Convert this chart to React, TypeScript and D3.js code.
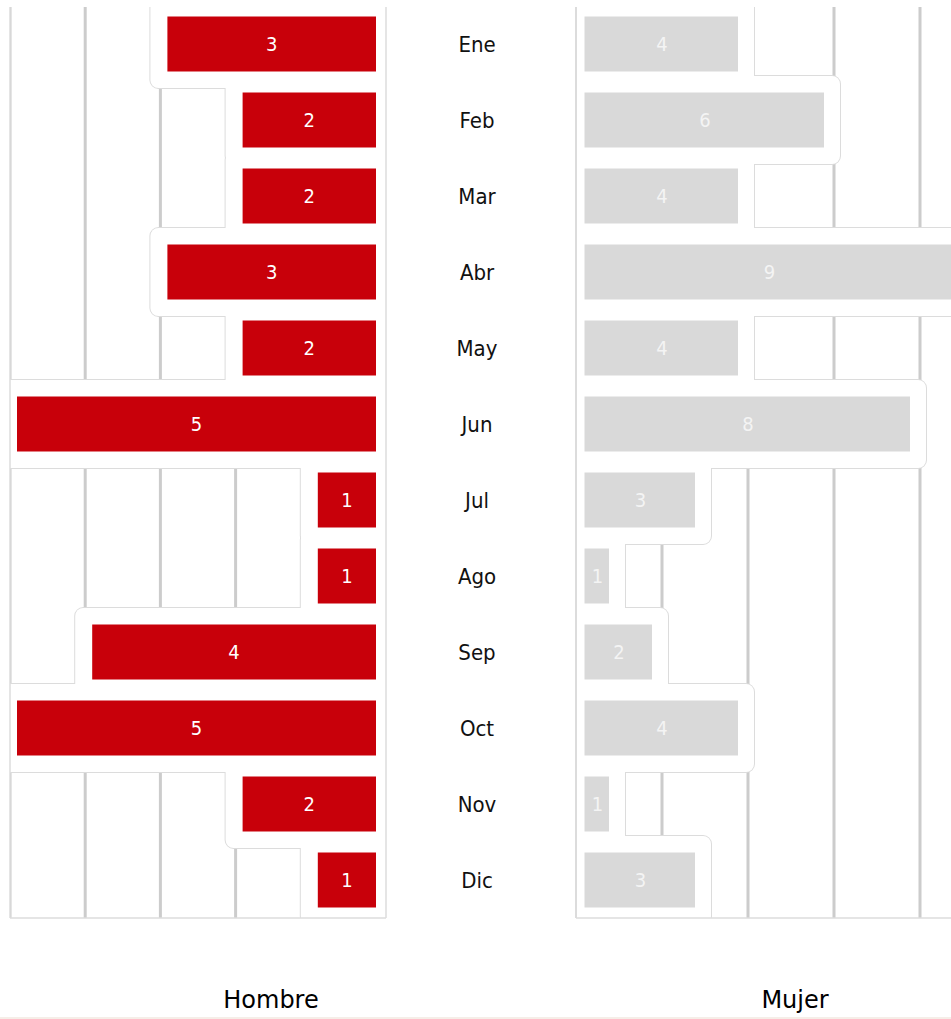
import React from "react";
import * as d3 from "d3";

const months = ["Ene", "Feb", "Mar", "Abr", "May", "Jun", "Jul", "Ago", "Sep", "Oct", "Nov", "Dic"];
const hombre = [3, 2, 2, 3, 2, 5, 1, 1, 4, 5, 2, 1];
const mujer = [4, 6, 4, 9, 4, 8, 3, 1, 2, 4, 1, 3];
const leftTicks = [0, 1, 2, 3, 4, 5];
const rightTicks = [0, 2, 4, 6, 8, 10];
const seriesNames = ["Hombre", "Mujer"];

const W = 951;
const H = 1019;
const TOP = 7;
const BOTTOM = 918;
const L0 = 10, L1 = 386;
const R0 = 576, R1 = 1006;

export default function App() {
  const y = d3.scaleBand<string>().domain(months).range([6, 918]).padding(0);
  const xL = d3.scaleLinear().domain([0, 5]).range([L1, L0]);
  const xR = d3.scaleLinear().domain([0, 10]).range([R0, R1]);
  const bw = y.bandwidth();
  const grid = "#cccccc";
  const edge = "#dcdcdc";
  const haloPadX = 10;
  const haloPadY = 6;
  const barInsetY = 10.5;
  const barInsetX = 8.5;

  const leftHalo = (v: number, i: number) => {
    const yy = y(months[i])!;
    const x0 = xL(v) - haloPadX;
    return { x: x0, y: yy - haloPadY, w: L1 + 20 - x0, h: bw + 2 * haloPadY };
  };
  const rightHalo = (v: number, i: number) => {
    const yy = y(months[i])!;
    const x1 = xR(v) + 6;
    return { x: R0 - 20, y: yy - haloPadY, w: x1 - (R0 - 20), h: bw + 2 * haloPadY };
  };

  return (
    <svg width={W} height={H} style={{ position: "absolute", left: 0, top: 0, background: "#fff" }}>
      <defs>
        <clipPath id="clipL">
          <rect x={L0} y={TOP} width={L1 - L0} height={BOTTOM - TOP} />
        </clipPath>
        <clipPath id="clipR">
          <rect x={R0} y={TOP} width={R1 - R0 + 40} height={BOTTOM - TOP} />
        </clipPath>
      </defs>

      {/* Left panel */}
      <g clipPath="url(#clipL)">
        {leftTicks.map((t) => (
          <line key={"gl" + t} x1={xL(t)} x2={xL(t)} y1={TOP} y2={BOTTOM} stroke={grid} strokeWidth={3} />
        ))}
        {hombre.map((v, i) => {
          const r = leftHalo(v, i);
          return <rect key={"hs" + i} x={r.x} y={r.y} width={r.w} height={r.h} rx={8} fill="#fff" stroke={edge} strokeWidth={2} />;
        })}
        {hombre.map((v, i) => {
          const r = leftHalo(v, i);
          return <rect key={"hf" + i} x={r.x} y={r.y} width={r.w} height={r.h} rx={8} fill="#fff" />;
        })}
        {hombre.map((v, i) => (
          <rect
            key={"hb" + i}
            x={xL(v) + barInsetX - 1.5}
            y={y(months[i])! + barInsetY}
            width={xL(0) - barInsetX - 1.5 - (xL(v) + barInsetX - 1.5)}
            height={bw - 2 * barInsetY}
            fill="#c8000a"
          />
        ))}
        {hombre.map((v, i) => (
          <text
            key={"ht" + i}
            x={(xL(v) + barInsetX + xL(0) - barInsetX) / 2 - 1.5}
            y={y(months[i])! + bw / 2}
            dy="0.36em"
            textAnchor="middle"
            fill="#ffffff"
            fontFamily="DejaVu Sans"
            style={{ fontStretch: "condensed" }}
            fontSize={20}
          >
            {v}
          </text>
        ))}
      </g>
      <line x1={L0} x2={L0} y1={TOP} y2={BOTTOM} stroke={edge} strokeWidth={1.5} />
      <line x1={L1} x2={L1} y1={TOP} y2={BOTTOM} stroke={edge} strokeWidth={1.5} />
      <line x1={L0} x2={L1} y1={BOTTOM} y2={BOTTOM} stroke={edge} strokeWidth={1.5} />

      {/* Right panel */}
      <g clipPath="url(#clipR)">
        {rightTicks.map((t) => (
          <line key={"gr" + t} x1={xR(t)} x2={xR(t)} y1={TOP} y2={BOTTOM} stroke={grid} strokeWidth={3} />
        ))}
        {mujer.map((v, i) => {
          const r = rightHalo(v, i);
          return <rect key={"ms" + i} x={r.x} y={r.y} width={r.w} height={r.h} rx={8} fill="#fff" stroke={edge} strokeWidth={2} />;
        })}
        {mujer.map((v, i) => {
          const r = rightHalo(v, i);
          return <rect key={"mf" + i} x={r.x} y={r.y} width={r.w} height={r.h} rx={8} fill="#fff" />;
        })}
        {mujer.map((v, i) => (
          <rect
            key={"mb" + i}
            x={xR(0) + barInsetX}
            y={y(months[i])! + barInsetY}
            width={xR(v) - 10 - (xR(0) + barInsetX)}
            height={bw - 2 * barInsetY}
            fill="#d9d9d9"
          />
        ))}
        {mujer.map((v, i) => (
          <text
            key={"mt" + i}
            x={(xR(0) + xR(v)) / 2}
            y={y(months[i])! + bw / 2}
            dy="0.36em"
            textAnchor="middle"
            fill="#f4f4f4"
            fontFamily="DejaVu Sans"
            style={{ fontStretch: "condensed" }}
            fontSize={20}
          >
            {v}
          </text>
        ))}
      </g>
      <line x1={R0} x2={R0} y1={TOP} y2={BOTTOM} stroke={edge} strokeWidth={2} />
      <line x1={R0} x2={W} y1={BOTTOM} y2={BOTTOM} stroke={edge} strokeWidth={1.5} />

      {/* Month labels */}
      {months.map((m) => (
        <text
          key={"m" + m}
          x={477}
          y={y(m)! + bw / 2}
          dy="0.36em"
          textAnchor="middle"
          fill="#111"
          fontFamily="DejaVu Sans"
          style={{ fontStretch: "condensed" }}
          fontSize={22}
        >
          {m}
        </text>
      ))}

      {/* Series titles */}
      <text x={271} y={1008} textAnchor="middle" fill="#000" fontFamily="DejaVu Sans" fontSize={24}>
        {seriesNames[0]}
      </text>
      <text x={795} y={1008} textAnchor="middle" fill="#000" fontFamily="DejaVu Sans" fontSize={24}>
        {seriesNames[1]}
      </text>
      <line x1={0} x2={W} y1={1018} y2={1018} stroke="#f6eee8" strokeWidth={2} />
    </svg>
  );
}
